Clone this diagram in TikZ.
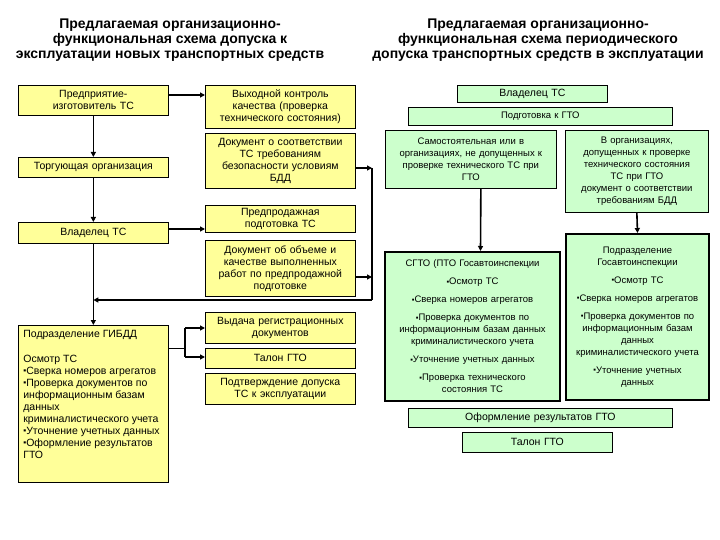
\documentclass[tikz,border=0pt]{standalone}
\usepackage{fontspec}
\setmainfont{Liberation Sans}
\usetikzlibrary{arrows.meta}
\definecolor{yel}{RGB}{255,255,153}
\definecolor{grn}{RGB}{204,255,204}
\newcommand{\bq}{\raisebox{0.15ex}{\scalebox{0.8}{▪}}}
\newcommand{\mkbox}[7]{%
  \node[#2, anchor=north west, minimum width={(#5-#3)*1pt}, minimum height={(#6-#4)*1pt}, text width={(#5-#3-6)*1pt}] (#1) at (#3,#4) {#7};}
\tikzset{
  boxbase/.style={draw=black, line width=0.7pt, inner sep=3pt, align=center,
    font=\fontsize{10.5}{12}\selectfont},
  ybox/.style={boxbase, fill=yel},
  gbox/.style={boxbase, fill=grn},
  smallfont/.style={font=\fontsize{9.5}{12}\selectfont},
  gboxthick/.style={boxbase, fill=grn, line width=2pt, smallfont},
  arr/.style={line width=1.6pt, -{Triangle[length=5pt,width=5pt]}},
  thinline/.style={line width=0.8pt},
  thickline/.style={line width=1.6pt},
  title/.style={align=center, font=\fontsize{14}{15}\selectfont\bfseries}
}
\begin{document}
\begin{tikzpicture}[x=1pt,y=-1pt]
\useasboundingbox (0,0) rectangle (720,540);
\fill[white] (0,0) rectangle (720,540);
% titles
\node[title] (t1) at (170,40) {Предлагаемая организационно-\\функциональная схема допуска к\\эксплуатации новых транспортных средств};
\node[title] (t2) at (538,40) {Предлагаемая организационно-\\функциональная схема периодического\\допуска транспортных средств в эксплуатации};
% left column
\mkbox{pred}{ybox}{18}{85}{168}{115}{Предприятие-\\изготовитель ТС}
\mkbox{torg}{ybox}{18}{157}{168}{177}{Торгующая организация}
\mkbox{vlad}{ybox}{18}{222}{168}{243}{Владелец ТС}
\node[ybox, anchor=north west, inner sep=0pt, align=left] (gibdd) at (18,325) {%
  \begin{minipage}[t][157pt][t]{150pt}\setlength{\parindent}{0pt}\leftskip=5pt\rightskip=0pt plus 1fil
  \vspace{5pt}Подразделение ГИБДД\\[13pt]
  Осмотр ТС\\
  \bq Сверка номеров агрегатов\\
  \bq Проверка документов по\\информационным базам\\данных\\криминалистического учета\\
  \bq Уточнение учетных данных\\
  \bq Оформление результатов\\ГТО
  \end{minipage}};
% middle column
\mkbox{vyh}{ybox}{205}{85}{355}{128}{Выходной контроль\\качества (проверка\\технического состояния)}
\mkbox{doc1}{ybox}{205}{133}{355}{188}{Документ о соответствии\\ТС требованиям\\безопасности условиям\\БДД}
\mkbox{prepr}{ybox}{205}{205}{355}{228}{Предпродажная\\подготовка ТС}
\mkbox{doc2}{ybox}{205}{240}{355}{296}{Документ об объеме и\\качестве выполненных\\работ по предпродажной\\подготовке}
\mkbox{vyd}{ybox}{205}{312}{355}{343}{Выдача регистрационных\\документов}
\mkbox{tal1}{ybox}{205}{348}{355}{368}{Талон ГТО}
\mkbox{podt}{ybox}{205}{373}{355}{404}{Подтверждение допуска\\ТС к эксплуатации}
% right diagram
\mkbox{vlad2}{gbox}{457}{85}{607}{102}{Владелец ТС}
\mkbox{podg}{gbox, smallfont}{408}{107}{672}{125}{Подготовка к ГТО}
\mkbox{samo}{gbox, smallfont}{385}{130}{556}{188}{Самостоятельная или в\\организациях, не допущенных к\\проверке технического ТС при\\ГТО}
\mkbox{vorg}{gbox, smallfont}{565}{130}{708}{212}{В организациях,\\допущенных к проверке\\технического состояния\\ТС при ГТО\\документ о соответствии\\требованиям БДД}
\mkbox{sgto}{gboxthick}{384}{251}{559}{400}{СГТО (ПТО Госавтоинспекции\\[6pt]
  \bq Осмотр ТС\\[6pt]
  \bq Сверка номеров агрегатов\\[6pt]
  \bq Проверка документов по\\информационным базам данных\\криминалистического учета\\[6pt]
  \bq Уточнение учетных данных\\[6pt]
  \bq Проверка технического\\состояния ТС}
\mkbox{podr}{gboxthick}{565}{233}{708}{399}{Подразделение\\Госавтоинспекции\\[6pt]
  \bq Осмотр ТС\\[6pt]
  \bq Сверка номеров агрегатов\\[6pt]
  \bq Проверка документов по\\информационным базам\\данных\\криминалистического учета\\[6pt]
  \bq Уточнение учетных\\данных}
\mkbox{ofor}{gbox}{408}{408}{672}{427}{Оформление результатов ГТО}
\mkbox{tal2}{gbox}{462}{432}{612}{452}{Талон ГТО}
% coordinates
\coordinate (b1) at (372,168);
\coordinate (b2) at (372,277);
\coordinate (b3) at (372,300);
\coordinate (j1) at (185,348);
\coordinate (j2) at (185,328);
\coordinate (j3) at (185,357);
% left connectors
\draw[arr] (pred.east |- 0,95) -- (vyh.west |- 0,95);
\draw[arr] (pred.south) -- (torg.north);
\draw[arr] (torg.south) -- (vlad.north);
\draw[arr] (vlad.east |- 0,229) -- (prepr.west |- 0,229);
\draw[arr] (vlad.south) -- (gibdd.north);
\draw[arr] (doc1.east |- b1) -- (b1);
\draw[arr] (doc2.east |- b2) -- (b2);
\draw[thickline] (b1) -- (b3);
\draw[arr] (b3) -- (vlad.south |- b3);
\draw[thinline] (gibdd.east |- j1) -- (j1);
\draw[thickline] (j2) -- (j3);
\draw[arr] (j2) -- (vyd.west |- j2);
\draw[arr] (j3) -- (tal1.west |- j3);
% right connectors
\draw[arr] ([xshift=10pt]samo.south) -- ([xshift=8pt]sgto.north);
\draw[arr] (vorg.south) -- (podr.north);
\end{tikzpicture}
\end{document}
